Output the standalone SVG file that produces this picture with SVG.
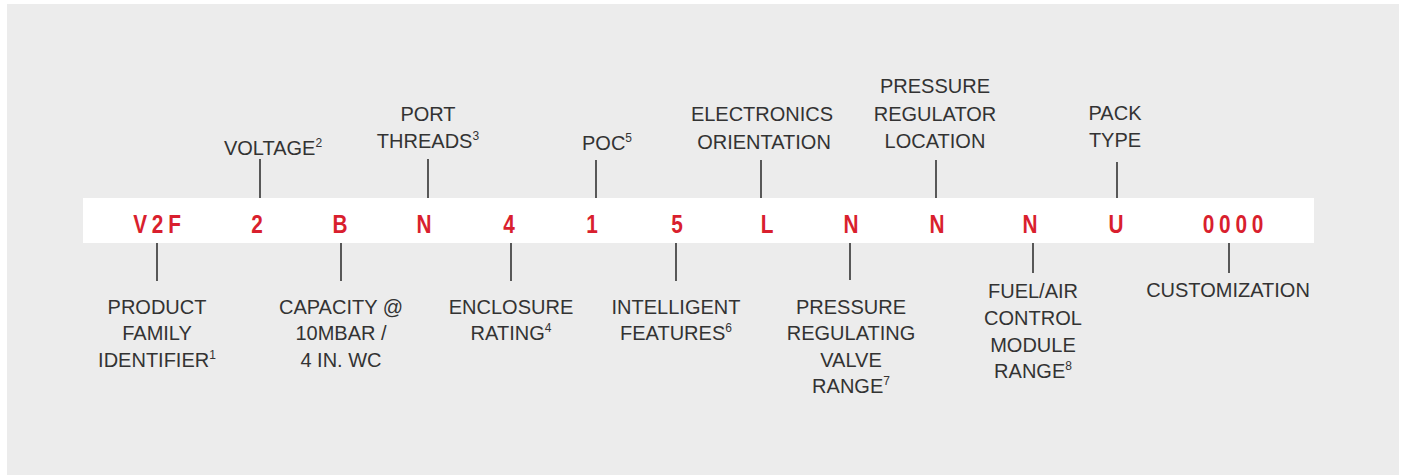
<svg xmlns="http://www.w3.org/2000/svg" width="1403" height="475" viewBox="0 0 1403 475">
<style>
.lbl{font-family:"Liberation Sans",Arial,sans-serif;font-size:20px;fill:#333;text-anchor:middle}
.sup{font-size:12px}
.code{font-family:"Liberation Sans",Arial,sans-serif;font-size:26px;font-weight:bold;fill:#d91f2e;text-anchor:middle;letter-spacing:6px}
.ln{stroke:#333;stroke-width:1.6;fill:none}
</style>
<rect x="0" y="0" width="1403" height="475" fill="#ffffff"/>
<rect x="7" y="4" width="1392" height="471" fill="#ececec"/>
<g id="band">
<rect x="83" y="198" width="1231" height="45" fill="#ffffff"/>
</g>
<g id="connectors">
<line class="ln" x1="260" y1="159" x2="260" y2="198"/>
<line class="ln" x1="428" y1="159" x2="428" y2="198"/>
<line class="ln" x1="596" y1="160" x2="596" y2="198"/>
<line class="ln" x1="761" y1="160" x2="761" y2="198"/>
<line class="ln" x1="936" y1="160" x2="936" y2="198"/>
<line class="ln" x1="1117" y1="162" x2="1117" y2="198"/>
<line class="ln" x1="157" y1="243" x2="157" y2="281"/>
<line class="ln" x1="341" y1="243" x2="341" y2="281"/>
<line class="ln" x1="511" y1="243" x2="511" y2="281"/>
<line class="ln" x1="676" y1="243" x2="676" y2="281"/>
<line class="ln" x1="850" y1="243" x2="850" y2="280"/>
<line class="ln" x1="1033" y1="243" x2="1033" y2="273"/>
<line class="ln" x1="1229" y1="243" x2="1229" y2="273"/>
</g>
<g id="codes">
<text class="code" transform="translate(157,233) scale(0.8,1)" x="3">V2F</text>
<text class="code" transform="translate(257,233) scale(0.8,1)" x="3">2</text>
<text class="code" transform="translate(340,233) scale(0.8,1)" x="3">B</text>
<text class="code" transform="translate(424,233) scale(0.8,1)" x="3">N</text>
<text class="code" transform="translate(509,233) scale(0.8,1)" x="3">4</text>
<text class="code" transform="translate(592,233) scale(0.8,1)" x="3">1</text>
<text class="code" transform="translate(677,233) scale(0.8,1)" x="3">5</text>
<text class="code" transform="translate(767,233) scale(0.8,1)" x="3">L</text>
<text class="code" transform="translate(851,233) scale(0.8,1)" x="3">N</text>
<text class="code" transform="translate(937,233) scale(0.8,1)" x="3">N</text>
<text class="code" transform="translate(1030,233) scale(0.8,1)" x="3">N</text>
<text class="code" transform="translate(1116,233) scale(0.8,1)" x="3">U</text>
<text class="code" transform="translate(1233,233) scale(0.8,1)" x="3">0000</text>
</g>
<g id="voltage"><text class="lbl" x="273" y="155">VOLTAGE<tspan class="sup" dy="-8">2</tspan></text></g>
<g id="port-threads">
<text class="lbl" x="428" y="121">PORT</text>
<text class="lbl" x="428" y="148">THREADS<tspan class="sup" dy="-8">3</tspan></text>
</g>
<g id="poc"><text class="lbl" x="607" y="150">POC<tspan class="sup" dy="-8">5</tspan></text></g>
<g id="electronics-orientation">
<text class="lbl" x="762" y="121">ELECTRONICS</text>
<text class="lbl" x="764" y="149">ORIENTATION</text>
</g>
<g id="pressure-regulator-location">
<text class="lbl" x="935" y="93">PRESSURE</text>
<text class="lbl" x="935" y="121">REGULATOR</text>
<text class="lbl" x="935" y="148">LOCATION</text>
</g>
<g id="pack-type">
<text class="lbl" x="1115" y="120">PACK</text>
<text class="lbl" x="1115" y="147">TYPE</text>
</g>
<g id="product-family">
<text class="lbl" x="157" y="314">PRODUCT</text>
<text class="lbl" x="157" y="340">FAMILY</text>
<text class="lbl" x="157" y="367">IDENTIFIER<tspan class="sup" dy="-8">1</tspan></text>
</g>
<g id="capacity">
<text class="lbl" x="341" y="314">CAPACITY @</text>
<text class="lbl" x="341" y="340">10MBAR /</text>
<text class="lbl" x="341" y="367">4 IN. WC</text>
</g>
<g id="enclosure">
<text class="lbl" x="511" y="314">ENCLOSURE</text>
<text class="lbl" x="511" y="340">RATING<tspan class="sup" dy="-8">4</tspan></text>
</g>
<g id="intelligent">
<text class="lbl" x="676" y="314">INTELLIGENT</text>
<text class="lbl" x="676" y="340">FEATURES<tspan class="sup" dy="-8">6</tspan></text>
</g>
<g id="prv-range">
<text class="lbl" x="851" y="314">PRESSURE</text>
<text class="lbl" x="851" y="340">REGULATING</text>
<text class="lbl" x="851" y="367">VALVE</text>
<text class="lbl" x="851" y="393">RANGE<tspan class="sup" dy="-8">7</tspan></text>
</g>
<g id="fuel-air">
<text class="lbl" x="1033" y="298">FUEL/AIR</text>
<text class="lbl" x="1033" y="325">CONTROL</text>
<text class="lbl" x="1033" y="352">MODULE</text>
<text class="lbl" x="1033" y="378">RANGE<tspan class="sup" dy="-8">8</tspan></text>
</g>
<g id="customization"><text class="lbl" x="1228" y="297">CUSTOMIZATION</text></g>
</svg>
